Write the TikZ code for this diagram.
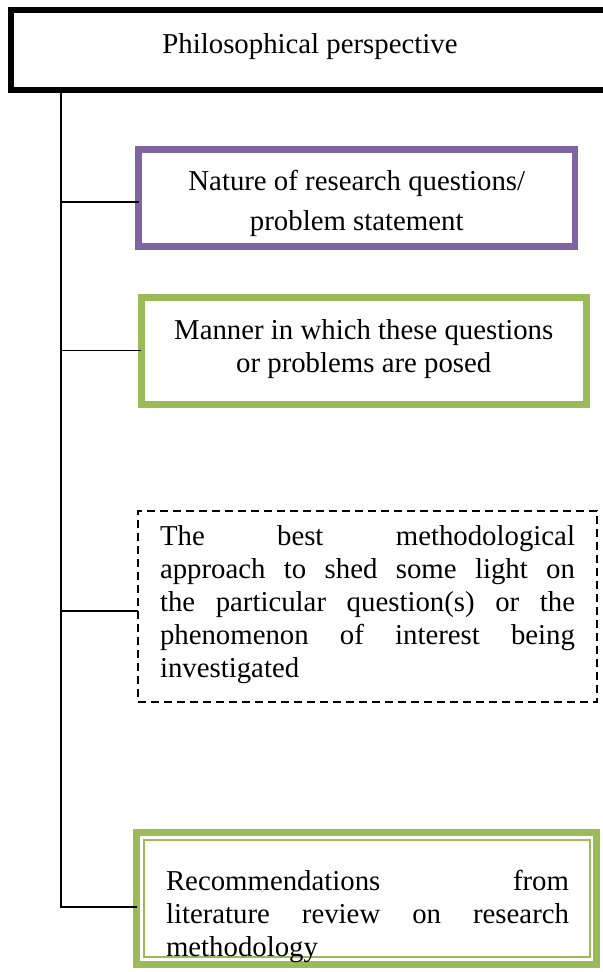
\documentclass[tikz,border=0pt]{standalone}
\usepackage{fontspec}
\setmainfont{Liberation Serif}
\definecolor{boxpurple}{HTML}{8064A2}
\definecolor{boxgreen}{HTML}{9BBB59}
\tikzset{
  box/.style={draw, rectangle, inner sep=0pt, outer sep=0pt, fill=none},
  conn/.style={draw=black, line width=0.75pt},
  txt/.style={inner sep=0pt, outer sep=0pt, font=\fontsize{14.4}{16.5}\selectfont},
}
\begin{document}
\begin{tikzpicture}[x=0.5pt,y=-0.5pt]
\useasboundingbox (0,0) rectangle (603,972);
% boxes
\node[box, line width=3pt, minimum width=299pt, minimum height=40pt] (top) at (310,50) {};
\node[box, draw=boxpurple, line width=3.25pt, minimum width=218.25pt, minimum height=48.5pt] (b1) at (356.75,198) {};
\node[box, draw=boxgreen, line width=3.5pt, minimum width=222.75pt, minimum height=53.25pt] (b2) at (363.75,350.75) {};
\node[box, line width=1pt, dash pattern=on 4pt off 2.5pt, minimum width=229.5pt, minimum height=95.5pt] (b3) at (367.5,606.5) {};
\node[box, draw=boxgreen, line width=3.5pt, minimum width=229.75pt, minimum height=66pt] (b4) at (366.5,898) {};
\node[box, draw=boxgreen, line width=1pt, minimum width=223pt, minimum height=58.5pt] (b4in) at (366.5,898) {};
% texts
\node[txt, anchor=base] (ttop) at (310,54) {Philosophical perspective};
\node[txt, align=center, font=\fontsize{14.4}{20}\selectfont] (t1) at (356.75,203) {\strut Nature of research questions/\\problem statement\strut};
\node[txt, align=center] (t2) at (363.75,349.4) {\strut Manner in which these questions\\or problems are posed\strut};
\node[txt, text width=207.5pt, align=justify] (t3) at (367.5,605) {\tolerance=10000\hyphenpenalty=10000\strut The best methodological\linebreak approach to shed some light on\linebreak the particular question(s) or the\linebreak phenomenon of interest being\linebreak investigated\strut};
\node[txt, text width=201.5pt, align=justify] (t4) at (367.5,916.4) {\tolerance=10000\hyphenpenalty=10000\strut Recommendations from\linebreak literature review on research\linebreak methodology\strut};
% trunk and branches
\coordinate (j1) at (61,202);
\coordinate (j3) at (61,611);
\coordinate (j4) at (61,907);
\draw[conn] (top.south -| j4) -- (j4) -- (j4 -| b4.west);
\draw[conn] (j1) -- (j1 -| b1.west);
\draw[conn] (j4 |- b2.west) -- (b2.west);
\draw[conn] (j3) -- (j3 -| b3.west);
\end{tikzpicture}
\end{document}
